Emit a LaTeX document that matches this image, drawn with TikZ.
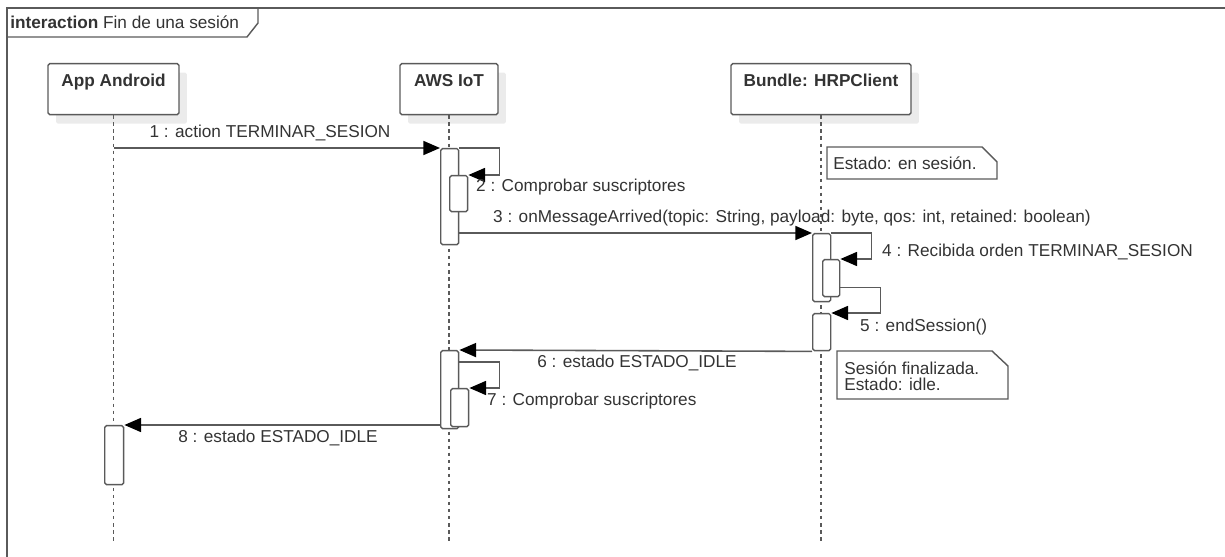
\documentclass[tikz,border=0pt]{standalone}
\usepackage{fontspec}
\setmainfont{Liberation Sans}
\usetikzlibrary{arrows.meta,shadows}
\definecolor{linegray}{HTML}{5A5A5A}
\definecolor{textgray}{HTML}{333333}
\definecolor{shadowgray}{HTML}{EBEBEB}
\tikzset{
  base/.style={font=\fontsize{9.8}{11.5}\selectfont, text=textgray},
  head/.style={base, font=\fontsize{9.8}{11.5}\selectfont\bfseries, draw=linegray,
    line width=0.8pt, fill=white, rounded corners=1pt, anchor=north, inner xsep=0pt,
    inner ysep=0pt, text height=0.46cm, text depth=0.56cm,
    drop shadow={shadow xshift=0.16cm, shadow yshift=-0.18cm, fill=shadowgray, opacity=1}},
  lifeline/.style={draw=linegray, line width=0.8pt, dash pattern=on 2pt off 2pt},
  bar/.style={draw=linegray, line width=0.8pt, fill=white, rounded corners=1pt,
    anchor=north west, inner sep=0pt, minimum width=0.36cm},
  msg/.style={draw=linegray, line width=0.9pt,
    -{Triangle[length=9.5pt,width=8pt,fill=black,color=black]}},
  frame/.style={draw=linegray, line width=0.8pt},
  note/.style={base, anchor=north west, align=left, inner sep=0pt}
}
\begin{document}
\begin{tikzpicture}[x=0.02cm,y=-0.02cm]
\useasboundingbox (0,0) rectangle (1225,557);
% frame
\draw[frame] (1225,8) -- (7,8) -- (7,557);
\draw[frame] (7,37) -- (247,37) -- (258,23) -- (258,8);
\node[base, anchor=base west, inner sep=0pt] (title) at (10,29) {\textbf{interaction} Fin de una sesión};
% lifelines
\node[head, minimum width=2.62cm] (app) at (113.5,63) {App Android};
\node[head, minimum width=1.96cm] (aws) at (449,63) {AWS IoT};
\node[head, minimum width=3.6cm] (hrp) at (821,63) {Bundle: HRPClient};
\coordinate (bottom) at (0,543);
\draw[lifeline] (app.south) -- (app.south |- bottom);
\draw[lifeline] (aws.south) -- (aws.south |- bottom);
\draw[lifeline] (hrp.south) -- (hrp.south |- bottom);
% activations
\node[bar, minimum height=1.92cm] (a1) at (440,148) {};
\node[bar, minimum height=0.72cm] (a2) at (449,175) {};
\node[bar, minimum height=1.36cm] (h1) at (812,233) {};
\node[bar, minimum height=0.74cm, minimum width=0.34cm] (h2) at (822,259) {};
\node[bar, minimum height=0.74cm] (h3) at (812,313) {};
\node[bar, minimum height=1.56cm] (a3) at (440,350) {};
\node[bar, minimum height=0.76cm] (a4) at (450,388) {};
\node[bar, minimum height=1.18cm, minimum width=0.38cm] (p1) at (104,425) {};
% messages
\draw[msg] (app.south |- a1.north west) -- (a1.north west);
\node[base] (m1) at (270,133) {1 : action TERMINAR\_SESION};
\draw[msg] (a1.north east) -- ++(40,0) |- (a2.north east);
\node[base, anchor=west] (m2) at (470,187) {2 : Comprobar suscriptores};
\draw[msg] (a1.east |- h1.north) -- (h1.north west);
\node[base] (m3) at (792,218) {3 : onMessageArrived(topic: String, payload: byte, qos: int, retained: boolean)};
\draw[msg] (h1.north east) -- ++(40,0) |- (h2.north east);
\node[base, anchor=west] (m4) at (876,252) {4 : Recibida orden TERMINAR\_SESION};
\draw[msg] ([yshift=0.2cm]h2.south east) -- ++(40,0) |- (h3.north east);
\node[base, anchor=west] (m5) at (854,327) {5 : endSession()};
\draw[msg] (h3.south west) -- (a3.north east);
\node[base] (m6) at (637,363) {6 : estado ESTADO\_IDLE};
\draw[msg] ([yshift=-0.24cm]a3.north east) -- ++(40,0) |- (a4.north east);
\node[base, anchor=west] (m7) at (481,401) {7 : Comprobar suscriptores};
\draw[msg] (a3.west |- p1.north) -- (p1.north east);
\node[base] (m8) at (278,438) {8 : estado ESTADO\_IDLE};
% notes
\node[note] (n1) at (833,156) {Estado: en sesión.};
\draw[frame] (827,147) -- (982,147) -- (997,162) -- (997,179) -- (827,179) -- cycle;
\node[note] (n2) at (844,361) {Sesión finalizada.\\[-2pt]Estado: idle.};
\draw[frame] (837,351) -- (992,351) -- (1008,366) -- (1008,399) -- (837,399) -- cycle;
\end{tikzpicture}
\end{document}
